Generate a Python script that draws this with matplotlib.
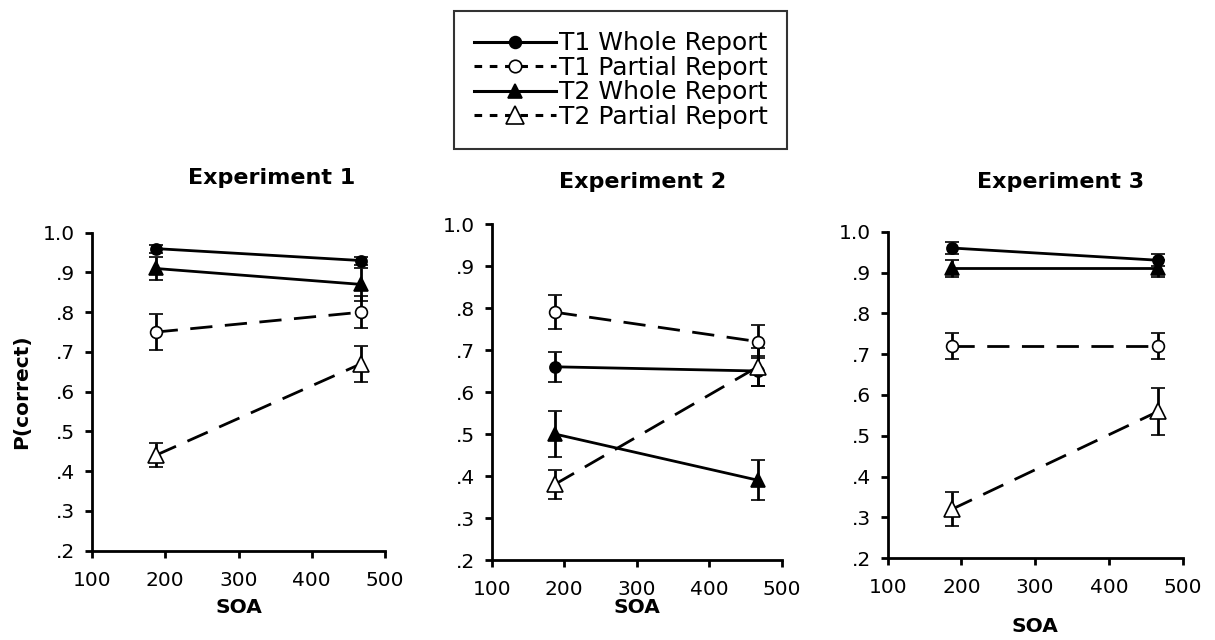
import matplotlib.pyplot as plt
from matplotlib.lines import Line2D

plt.rcParams["font.family"] = ["DejaVu Sans"]

SOA = [187, 467]
EXPERIMENTS = ["Experiment 1", "Experiment 2", "Experiment 3"]
SERIES = ["T1 Whole Report", "T1 Partial Report", "T2 Whole Report", "T2 Partial Report"]

# mean P(correct) per experiment, per series, at the two SOAs
exp1_means = [[0.96, 0.93], [0.75, 0.80], [0.91, 0.87], [0.44, 0.67]]
exp1_errs = [[0.010, 0.010], [0.045, 0.040], [0.030, 0.042], [0.030, 0.045]]
exp2_means = [[0.66, 0.65], [0.79, 0.72], [0.50, 0.39], [0.38, 0.66]]
exp2_errs = [[0.035, 0.035], [0.040, 0.040], [0.055, 0.048], [0.035, 0.045]]
exp3_means = [[0.96, 0.93], [0.72, 0.72], [0.91, 0.91], [0.32, 0.56]]
exp3_errs = [[0.015, 0.015], [0.033, 0.033], [0.020, 0.020], [0.042, 0.057]]

Y_TICKS = [0.2, 0.3, 0.4, 0.5, 0.6, 0.7, 0.8, 0.9, 1.0]
Y_TICK_LABELS = [".2", ".3", ".4", ".5", ".6", ".7", ".8", ".9", "1.0"]
X_TICKS = [100, 200, 300, 400, 500]

# styles per series: marker, face colour, marker size, dashed?
STYLES = [
    ("o", "black", 8, False),
    ("o", "white", 8.5, True),
    ("^", "black", 10, False),
    ("^", "white", 12, True),
]

AX_RECTS = [
    [0.0757, 0.1395, 0.2412, 0.4969],
    [0.4047, 0.1250, 0.2387, 0.5250],
    [0.7306, 0.1277, 0.2428, 0.5103],
]
SOA_Y = [-0.180, -0.142, -0.210]

fig = plt.figure(figsize=(12.15, 6.4), dpi=100)
fig.patch.set_facecolor("white")

all_means = [exp1_means, exp2_means, exp3_means]
all_errs = [exp1_errs, exp2_errs, exp3_errs]

for i, title in enumerate(EXPERIMENTS):
    ax = fig.add_axes(AX_RECTS[i])
    for (marker, face, ms, dashed), means, errs in zip(STYLES, all_means[i], all_errs[i]):
        ls = (0, (8, 4.5)) if dashed else "-"
        ax.errorbar(
            SOA, means, yerr=errs,
            color="black", linestyle=ls, linewidth=2,
            marker=marker, markersize=ms, markerfacecolor=face,
            markeredgecolor="black", markeredgewidth=1.2,
            ecolor="black", elinewidth=2, capsize=5, capthick=2,
            clip_on=False,
        )
    ax.set_xlim(100, 500)
    ax.set_ylim(0.2, 1.0)
    ax.set_xticks(X_TICKS)
    ax.set_yticks(Y_TICKS)
    ax.set_yticklabels(Y_TICK_LABELS)
    ax.tick_params(direction="out", length=5, width=2, labelsize=14.5, color="black")
    ax.tick_params(axis="x", pad=9.5)
    ax.tick_params(axis="y", pad=7)
    for side in ["top", "right"]:
        ax.spines[side].set_visible(False)
    for side in ["left", "bottom"]:
        ax.spines[side].set_linewidth(2)
    ax.set_xlabel("SOA", fontsize=14.5, fontweight="bold", va="center")
    ax.xaxis.set_label_coords(0.5, SOA_Y[i])
    if i == 0:
        ax.set_ylabel("P(correct)", fontsize=14.5, fontweight="bold", va="center")
        ax.yaxis.set_label_coords(-0.239, 0.5)

TITLE_POS = [(0.2239, 0.7219), (0.5292, 0.7156), (0.8733, 0.7156)]
for title, (tx, ty) in zip(EXPERIMENTS, TITLE_POS):
    fig.text(tx, ty, title, fontsize=16, fontweight="bold", ha="center", va="center")

handles = []
for (marker, face, ms, dashed), label in zip(STYLES, SERIES):
    handles.append(Line2D(
        [0], [0], color="black", linewidth=2.2,
        linestyle=(0, (2.5, 2.5)) if dashed else "-",
        marker=marker, markersize=ms + 0.5, markerfacecolor=face,
        markeredgecolor="black", markeredgewidth=1.2, label=label,
    ))
leg = fig.legend(
    handles=handles, loc="center", bbox_to_anchor=(0.5107, 0.875),
    fontsize=18, frameon=True, fancybox=False, handlelength=3.3,
    handletextpad=0.1, labelspacing=0.02, borderpad=0.8, borderaxespad=0,
)
leg.get_frame().set_edgecolor("black")
leg.get_frame().set_linewidth(1.5)

fig.savefig("out.png", dpi=100, facecolor="white")
